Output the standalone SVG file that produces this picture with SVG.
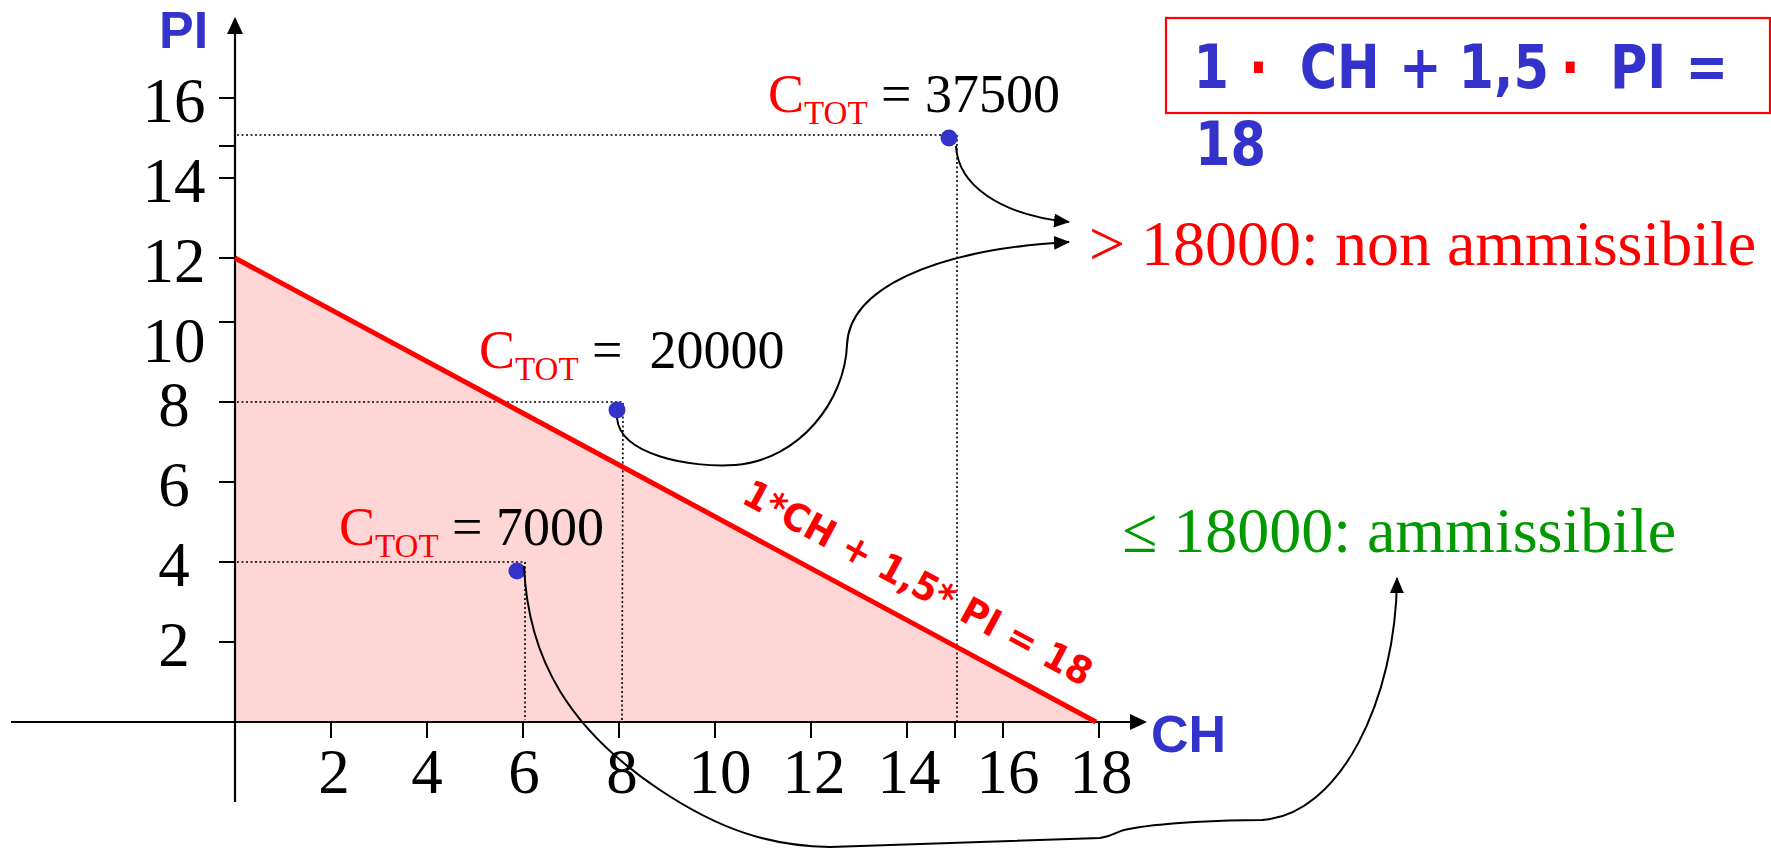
<svg xmlns="http://www.w3.org/2000/svg" width="1771" height="849" viewBox="0 0 1771 849">
<style>
.ax{stroke:#000;stroke-width:2.2;fill:none}
.tk{stroke:#000;stroke-width:2}
.dot{stroke:#000;stroke-width:1.6;stroke-dasharray:2 2.5;fill:none}
.num{font-family:"Liberation Serif","Times New Roman",serif;font-size:63px;fill:#000;text-anchor:middle}
.ser{font-family:"Liberation Serif","Times New Roman",serif}
.axl{font-family:"Liberation Sans",Arial,sans-serif;font-weight:bold;font-size:52px;fill:#3333CC}
.eq{font-family:"DejaVu Sans",sans-serif;font-weight:bold;font-size:60px;fill:#3333CC}
.conn{stroke:#000;stroke-width:2;fill:none;marker-end:url(#ah)}
.pt{fill:#3333CC}
</style>
<defs>
<marker id="ah" markerWidth="16" markerHeight="14" refX="15" refY="7" orient="auto" markerUnits="userSpaceOnUse">
<path d="M0,0 L16,7 L0,14 Z" fill="#000"/>
</marker>
</defs>
<g id="region">
<polygon points="235,258 235,722 1096,722" fill="#FFD6D6"/>
</g>
<g id="guides">
<polyline class="dot" points="237,135 957,135 957,722"/>
<polyline class="dot" points="237,402 623,402 622,722"/>
<polyline class="dot" points="237,562 525,562 525,720"/>
</g>
<g id="axes">
<line class="ax" x1="11" y1="722" x2="1132" y2="722"/>
<path d="M1130,714 L1147,722 L1130,730 Z" fill="#000"/>
<line class="ax" x1="235" y1="802" x2="235" y2="32"/>
<path d="M227,34 L235,17 L243,34 Z" fill="#000"/>
<g class="tk">
<line x1="219" y1="98" x2="235" y2="98"/>
<line x1="219" y1="146" x2="235" y2="146"/>
<line x1="219" y1="178" x2="235" y2="178"/>
<line x1="219" y1="258" x2="235" y2="258"/>
<line x1="219" y1="322" x2="235" y2="322"/>
<line x1="219" y1="402" x2="235" y2="402"/>
<line x1="219" y1="482" x2="235" y2="482"/>
<line x1="219" y1="562" x2="235" y2="562"/>
<line x1="219" y1="642" x2="235" y2="642"/>
<line x1="331" y1="722" x2="331" y2="738"/>
<line x1="427" y1="722" x2="427" y2="738"/>
<line x1="523" y1="722" x2="523" y2="738"/>
<line x1="619" y1="722" x2="619" y2="738"/>
<line x1="715" y1="722" x2="715" y2="738"/>
<line x1="811" y1="722" x2="811" y2="738"/>
<line x1="907" y1="722" x2="907" y2="738"/>
<line x1="955" y1="722" x2="955" y2="738"/>
<line x1="1003" y1="722" x2="1003" y2="738"/>
<line x1="1099" y1="722" x2="1099" y2="738"/>
</g>
<g class="num">
<text x="174" y="122">16</text>
<text x="174" y="202">14</text>
<text x="174" y="282">12</text>
<text x="174" y="362">10</text>
<text x="174" y="426">8</text>
<text x="174" y="506">6</text>
<text x="174" y="586">4</text>
<text x="174" y="666">2</text>
<text x="334" y="793">2</text>
<text x="427" y="793">4</text>
<text x="524" y="793">6</text>
<text x="622" y="793">8</text>
<text x="720" y="793">10</text>
<text x="814" y="793">12</text>
<text x="909" y="793">14</text>
<text x="1008" y="793">16</text>
<text x="1101" y="793">18</text>
</g>
<text class="axl" x="159" y="48">PI</text>
<text class="axl" x="1151" y="752">CH</text>
</g>
<g id="constraint">
<line x1="235" y1="258" x2="1096" y2="722" stroke="#FF0000" stroke-width="5"/>
<text transform="translate(740,502) rotate(28.3)" font-family="DejaVu Sans,sans-serif" font-weight="bold" font-size="38" fill="#FF0000" textLength="390" lengthAdjust="spacingAndGlyphs">1*CH + 1,5* PI = 18</text>
</g>
<g id="point-15-15">
<circle class="pt" cx="949" cy="138" r="8.5"/>
<text class="ser" x="768" y="112" font-size="54"><tspan fill="#FF0000">C</tspan><tspan fill="#FF0000" font-size="33" dy="11.5">TOT</tspan><tspan dy="-11.5" fill="#000"> = 37500</tspan></text>
</g>
<g id="point-8-8">
<circle class="pt" cx="617" cy="410" r="8.5"/>
<text class="ser" x="479" y="368" font-size="54" xml:space="preserve"><tspan fill="#FF0000">C</tspan><tspan fill="#FF0000" font-size="33" dy="11.5">TOT</tspan><tspan dy="-11.5" fill="#000"> =  20000</tspan></text>
</g>
<g id="point-6-4">
<circle class="pt" cx="517" cy="571" r="8.5"/>
<text class="ser" x="339" y="545" font-size="54"><tspan fill="#FF0000">C</tspan><tspan fill="#FF0000" font-size="33" dy="11.5">TOT</tspan><tspan dy="-11.5" fill="#000"> = 7000</tspan></text>
</g>
<g id="non-ammissibile">
<text class="ser" x="1089" y="265" font-size="64" fill="#FF0000">&gt; 18000: non ammissibile</text>
</g>
<g id="ammissibile">
<text class="ser" x="1122" y="552" font-size="64" fill="#009900">≤ 18000: ammissibile</text>
</g>
<g id="equation">
<rect x="1166" y="18" width="604" height="95" fill="none" stroke="#FF0000" stroke-width="2.2"/>
<text class="eq" transform="scale(0.85,1)" y="88"><tspan x="1404">1</tspan><tspan x="1469" fill="#FF0000">·</tspan><tspan x="1529">CH</tspan><tspan x="1646">+</tspan><tspan x="1716">1,5</tspan><tspan x="1836" fill="#FF0000">·</tspan><tspan x="1894">PI</tspan><tspan x="1983">=</tspan><tspan x="1406" y="165">18</tspan></text>
</g>
<g id="connectors">
<path class="conn" d="M956,146 C958,185 1000,215 1069,222"/>
<path class="conn" d="M617,418 C620,455 690,468 735,465 C800,460 845,400 847,345 C849,290 930,250 1069,242"/>
<path class="conn" d="M524,566 C528,660 570,730 660,790 C720,830 770,846 830,847 L1100,838 C1114,836 1116,832 1124,830 C1160,822 1230,820 1262,820 C1340,815 1396,700 1397,578"/>
</g>
</svg>
